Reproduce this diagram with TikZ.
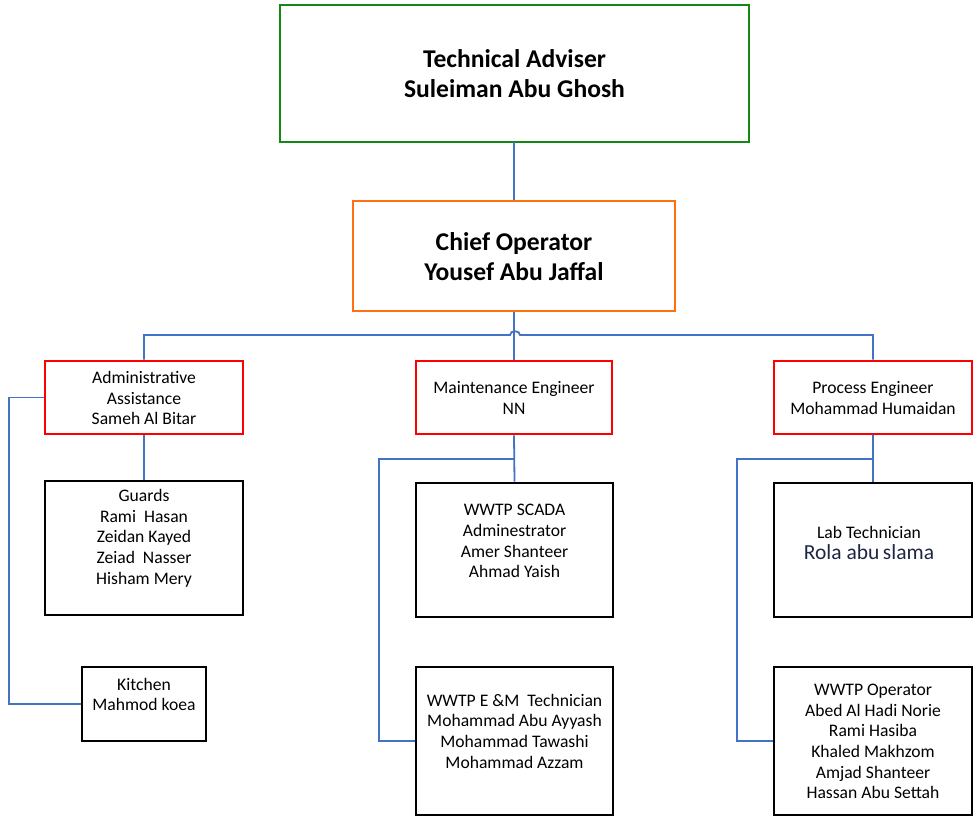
\documentclass[tikz,border=0pt]{standalone}
\usepackage{fontspec}
\setmainfont{Carlito}
\definecolor{linkblue}{RGB}{68,114,196}
\definecolor{taGreen}{RGB}{20,135,20}
\definecolor{coOrange}{RGB}{255,112,16}
\definecolor{boxRed}{RGB}{255,0,0}
\definecolor{rolaC}{RGB}{30,38,65}
\begin{document}
\begin{tikzpicture}[x=1pt,y=-1pt,
  box/.style={draw,line width=2.6pt,inner sep=0pt,rectangle},
  conn/.style={draw=linkblue,line width=1.8pt},
  small/.style={font=\fontsize{17.6}{20.7}\selectfont,align=center,inner sep=0pt},
  big/.style={font=\bfseries\fontsize{25.6}{30}\selectfont,align=center,inner sep=0pt}]
\useasboundingbox (0,0) rectangle (974,817);
% boxes
\node[box,draw=taGreen,minimum width=469pt,minimum height=137pt] (ta) at (514.5,73.5) {};
\node[box,draw=coOrange,minimum width=322pt,minimum height=110pt] (co) at (514,256) {};
\node[box,draw=boxRed,minimum width=198pt,minimum height=73pt] (ad) at (144,397.5) {};
\node[box,draw=boxRed,minimum width=196pt,minimum height=73pt] (mt) at (514,397.5) {};
\node[box,draw=boxRed,minimum width=198pt,minimum height=73pt] (pe) at (873,397.5) {};
\node[box,draw=black,minimum width=198pt,minimum height=134pt] (gd) at (144,548) {};
\node[box,draw=black,minimum width=124pt,minimum height=74pt] (kt) at (144,704) {};
\node[box,draw=black,minimum width=197pt,minimum height=134pt] (sc) at (514.5,550) {};
\node[box,draw=black,minimum width=197pt,minimum height=148pt] (em) at (514.5,741) {};
\node[box,draw=black,minimum width=198pt,minimum height=134pt] (lb) at (873,550) {};
\node[box,draw=black,minimum width=198pt,minimum height=148pt] (op) at (873,741) {};
% texts
\node[big] (taT) at (514.5,74) {Technical Adviser\\Suleiman Abu Ghosh};
\node[big] (coT) at (514,257) {Chief Operator\\Yousef Abu Jaffal};
\node[small] (adT) at (144,398) {Administrative\\Assistance\\Sameh Al Bitar};
\node[small] (mtT) at (514,398) {Maintenance Engineer\\NN};
\node[small] (peT) at (873,398) {Process Engineer\\Mohammad Humaidan};
\node[small] (gdT) at (144,538) {Guards\\Rami~~Hasan\\Zeidan Kayed\\Zeiad~~Nasser\\Hisham Mery};
\node[small] (ktT) at (144,694.5) {Kitchen\\Mahmod koea};
\node[small] (scT) at (514.5,541) {WWTP SCADA\\Adminestrator\\Amer Shanteer\\Ahmad Yaish};
\node[small] (emT) at (514.5,731) {WWTP E \&M~~Technician\\Mohammad Abu Ayyash\\Mohammad Tawashi\\Mohammad Azzam};
\node[small] (lbT) at (869,543) {Lab Technician\\[0pt]{\fontsize{21.5}{24}\selectfont\color{rolaC}Rola abu\,slama}};
\node[small] (opT) at (873,741.5) {WWTP Operator\\Abed Al Hadi Norie\\Rami Hasiba\\Khaled Makhzom\\Amjad Shanteer\\Hassan Abu Settah};
% connector coordinates
\coordinate (busY) at (0,335);
\coordinate (hopL) at (510,335);
\coordinate (hopR) at (520,335);
\coordinate (lx) at (9,0);
\coordinate (mj) at (514.5,459);
\coordinate (mx) at (379,459);
\coordinate (pj) at (873,459);
\coordinate (px) at (737,459);
% connectors
\draw[conn] (ta.south) -- (co.south |- ta.south) -- (co.north);
\draw[conn] (co.south) -- (mt.north);
\draw[conn] (ad.north) -- (ad.north |- busY) -- (hopL) .. controls (510,330) and (520,330) .. (hopR) -- (pe.north |- busY) -- (pe.north);
\draw[conn] (ad.south) -- (gd.north);
\draw[conn] (ad.west) -- (lx |- ad.west) -- (lx |- kt.west) -- (kt.west);
\draw[conn] (mt.south) -- (sc.north);
\draw[conn] (mj) -- (mx) -- (mx |- em.west) -- (em.west);
\draw[conn] (pe.south) -- (lb.north);
\draw[conn] (pj) -- (px) -- (px |- op.west) -- (op.west);
\end{tikzpicture}
\end{document}
